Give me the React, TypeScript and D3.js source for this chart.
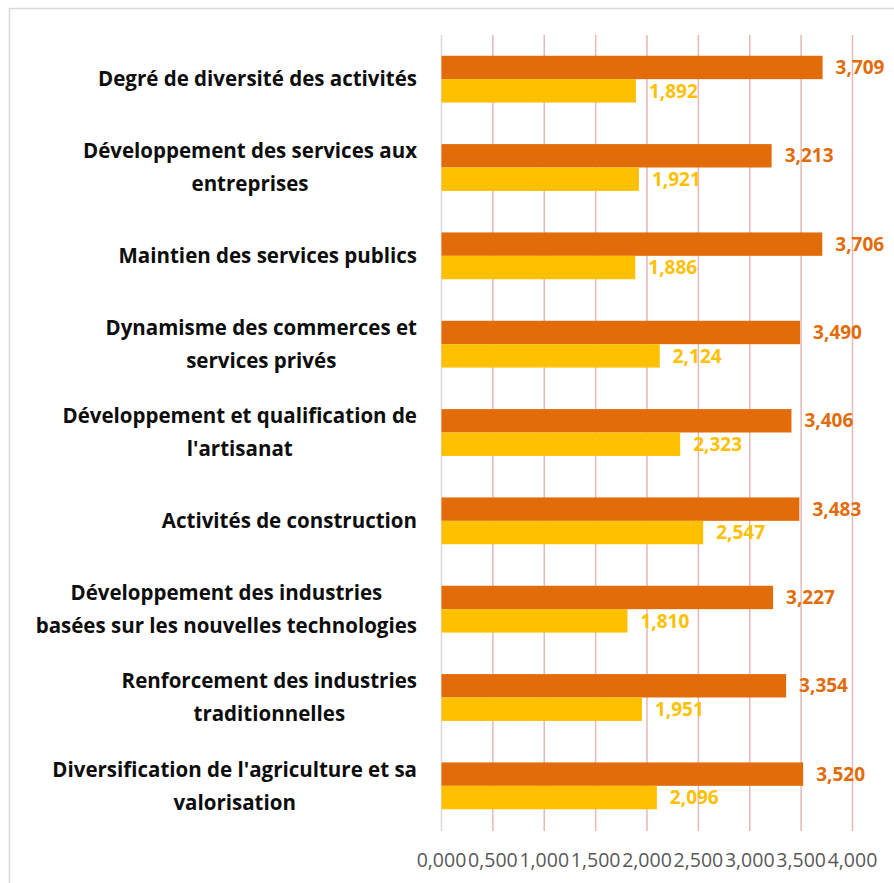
import React from "react";
import * as d3 from "d3";

const categories = [
  ["Degré de diversité des activités"],
  ["Développement des services aux", "entreprises"],
  ["Maintien des services publics"],
  ["Dynamisme des commerces et", "services privés"],
  ["Développement et qualification de", "l'artisanat"],
  ["Activités de construction"],
  ["Développement des industries", "basées sur les nouvelles technologies"],
  ["Renforcement des industries", "traditionnelles"],
  ["Diversification de l'agriculture et sa", "valorisation"],
];
const seriesA = [3.709, 3.213, 3.706, 3.49, 3.406, 3.483, 3.227, 3.354, 3.52];
const seriesB = [1.892, 1.921, 1.886, 2.124, 2.323, 2.547, 1.81, 1.951, 2.096];
const ticks = [0, 0.5, 1, 1.5, 2, 2.5, 3, 3.5, 4];

const W = 894;
const H = 883;
const FONT = "'Open Sans', sans-serif";
const LABEL_SIZE = 20.5;
const fmt = (v: number) => d3.format(".3f")(v).replace(".", ",");

let ctx: CanvasRenderingContext2D | null = null;
function measure(s: string): number {
  if (!ctx) ctx = document.createElement("canvas").getContext("2d");
  if (!ctx) return s.length * LABEL_SIZE * 0.55;
  ctx.font = `bold ${LABEL_SIZE}px 'Open Sans', sans-serif`;
  return ctx.measureText(s).width;
}

export default function App() {
  const x = d3.scaleLinear().domain([0, 4]).range([441.5, 852.5]);
  const idx = categories.map((_, i) => String(i));
  const y = d3.scaleBand().domain(idx).range([35, 830]).paddingInner(0.47).paddingOuter(0.235);
  const bh = y.bandwidth() / 2;
  const labelRight = 417;
  return (
    <svg width={W} height={H} style={{ position: "absolute", left: 0, top: 0 }}>
      <rect x={9.5} y={8.5} width={W} height={H - 5} fill="#fff" stroke="#d9d9d9" strokeWidth={1.5} />
      {ticks.map((t, i) => (
        <line key={"g" + i} x1={x(t)} x2={x(t)} y1={35} y2={831} stroke={i === 0 ? "#d9d9d9" : "#e6b9b8"} strokeWidth={1.5} />
      ))}
      {ticks.map((t, i) => (
        <text key={"t" + i} x={x(t)} y={867} textAnchor="middle" fontFamily={FONT} fontSize={19.5} fill="#595959">
          {fmt(t)}
        </text>
      ))}
      {categories.map((lines, i) => {
        const y0 = y(String(i))!;
        const cy = y0 + bh;
        const maxW = Math.max(...lines.map(measure));
        const cx = labelRight - maxW / 2;
        return (
          <g key={"c" + i}>
            <rect x={x(0)} y={y0} width={x(seriesA[i]) - x(0)} height={bh} fill="#e36c0a" />
            <rect x={x(0)} y={y0 + bh} width={x(seriesB[i]) - x(0)} height={bh} fill="#ffc000" />
            <text x={x(seriesA[i]) + 13} y={y0 + bh / 2} dy="0.35em" fontFamily={FONT} fontWeight="bold" fontSize={19} fill="#e36c0a">
              {fmt(seriesA[i])}
            </text>
            <text x={x(seriesB[i]) + 13} y={y0 + bh * 1.5} dy="0.35em" fontFamily={FONT} fontWeight="bold" fontSize={19} fill="#ffc000">
              {fmt(seriesB[i])}
            </text>
            {lines.map((l, j) => (
              <text key={j} x={cx} y={cy + (j - (lines.length - 1) / 2) * 33} dy="0.35em" textAnchor="middle" fontFamily={FONT} fontWeight="bold" fontSize={LABEL_SIZE} fill="#0d0d0d">
                {l}
              </text>
            ))}
          </g>
        );
      })}
    </svg>
  );
}
